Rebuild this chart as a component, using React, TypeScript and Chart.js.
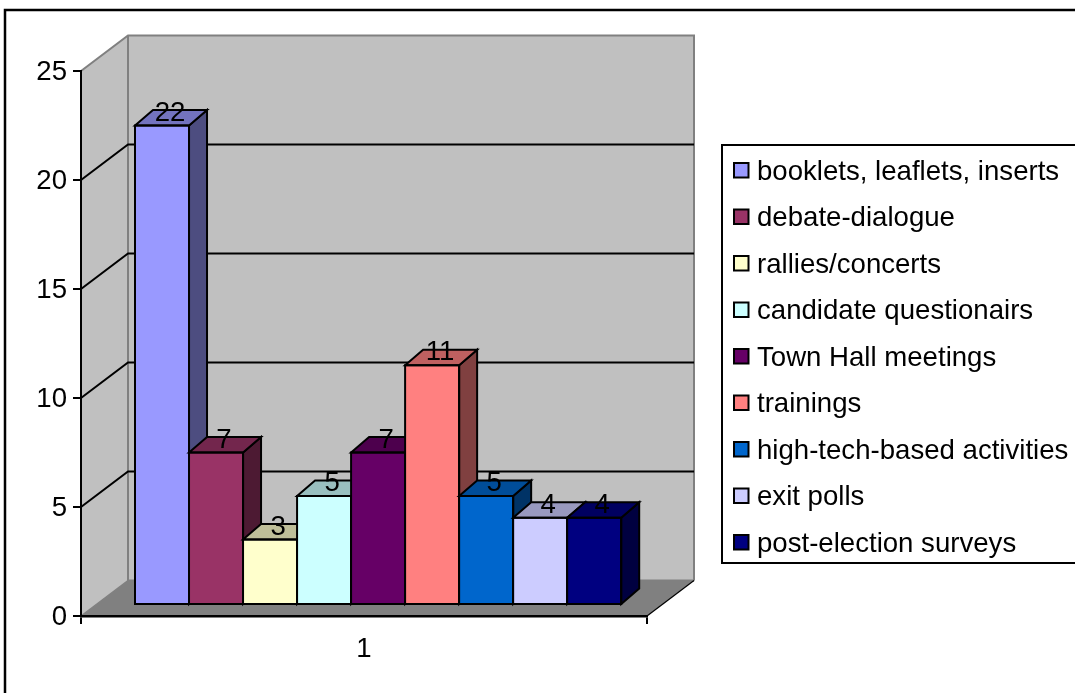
import React, { useEffect, useRef } from "react";
import { Chart, registerables } from "chart.js";

Chart.register(...registerables);

const categories = ["1"];
const seriesNames = [
  "booklets, leaflets, inserts",
  "debate-dialogue",
  "rallies/concerts",
  "candidate questionairs",
  "Town Hall meetings",
  "trainings",
  "high-tech-based activities",
  "exit polls",
  "post-election surveys",
];
const seriesValues = [22, 7, 3, 5, 7, 11, 5, 4, 4];
const seriesColors = [
  "#9999FF",
  "#993366",
  "#FFFFCC",
  "#CCFFFF",
  "#660066",
  "#FF8080",
  "#0066CC",
  "#CCCCFF",
  "#000080",
];

const FONT = '"Liberation Sans", Arial, sans-serif';
const FONT_SIZE = 27.6;

// Oblique projection of the chart box and of each column.
const WALL_DX = 47;
const WALL_DY = -35.5;
const BAR_SHIFT_X = 14.1;
const BAR_SHIFT_Y = -11;
const BAR_DX = 18;
const BAR_DY = -15.5;

const shade = (hex: string, k: number) => {
  const n = parseInt(hex.slice(1), 16);
  const c = [(n >> 16) & 255, (n >> 8) & 255, n & 255].map((v) => Math.round(v * k));
  return `rgb(${c[0]},${c[1]},${c[2]})`;
};

const poly = (ctx: CanvasRenderingContext2D, pts: number[][], fill?: string, stroke?: string, lw = 2) => {
  ctx.beginPath();
  pts.forEach(([x, y], i) => (i ? ctx.lineTo(x, y) : ctx.moveTo(x, y)));
  ctx.closePath();
  if (fill) {
    ctx.fillStyle = fill;
    ctx.fill();
  }
  if (stroke) {
    ctx.strokeStyle = stroke;
    ctx.lineWidth = lw;
    ctx.lineJoin = "miter";
    ctx.stroke();
  }
};

const segment = (ctx: CanvasRenderingContext2D, pts: number[][], color: string, lw: number) => {
  ctx.beginPath();
  pts.forEach(([x, y], i) => (i ? ctx.lineTo(x, y) : ctx.moveTo(x, y)));
  ctx.strokeStyle = color;
  ctx.lineWidth = lw;
  ctx.stroke();
};

// Frame, side wall, back wall, floor and the gridlines running across both walls.
const chartBox = {
  id: "chartBox",
  beforeDraw(chart: any) {
    const { ctx, chartArea: a, scales, width, height } = chart;
    ctx.save();
    ctx.fillStyle = "#fff";
    ctx.fillRect(0, 0, width, height);

    segment(ctx, [[5, height + 2], [5, 10], [width + 2, 10]], "#000", 2.5);

    const { left: l, right: r, top: t, bottom: b } = a;
    const dx = WALL_DX;
    const dy = WALL_DY;
    poly(ctx, [[l, t], [l + dx, t + dy], [l + dx, b + dy], [l, b]], "#C0C0C0");
    poly(ctx, [[l + dx, t + dy], [r + dx, t + dy], [r + dx, b + dy], [l + dx, b + dy]], "#C0C0C0");
    poly(ctx, [[l, b], [l + dx, b + dy], [r + dx, b + dy], [r, b]], "#808080");

    segment(ctx, [[l, t], [l + dx, t + dy], [r + dx, t + dy], [r + dx, b + dy]], "#808080", 2);
    segment(ctx, [[l + dx, t + dy], [l + dx, b + dy], [r + dx, b + dy]], "#808080", 2);
    segment(ctx, [[l, b], [l + dx, b + dy]], "#808080", 1.5);
    segment(ctx, [[r, b], [r + dx, b + dy]], "#000", 1.2);

    scales.y.ticks.forEach((tick: any) => {
      if (tick.value === 0 || tick.value === 25) return;
      const y = scales.y.getPixelForValue(tick.value);
      segment(ctx, [[l, y], [l + dx, y + dy], [r + dx, y + dy]], "#000", 2);
    });

    // Value-axis labels sit a little below their tick marks.
    scales.y.getLabelItems().forEach((item: any) => {
      item.options.translation[1] += 1.5;
    });
    ctx.restore();
  },
};

// Columns are painted left to right, each with its side and top faces, so a
// column's front hides the side face of the one before it.
const columns = {
  id: "columns",
  beforeDatasetsDraw(chart: any) {
    const { ctx } = chart;
    const metas = chart.getSortedVisibleDatasetMetas().slice().sort((p: any, q: any) => p.index - q.index);
    ctx.save();
    ctx.translate(BAR_SHIFT_X, BAR_SHIFT_Y);
    metas.forEach((meta: any) => {
      const color = seriesColors[meta.index];
      meta.controller.draw();
      meta.data.forEach((bar: any) => {
        const { x, y, base, width } = bar.getProps(["x", "y", "base", "width"], true);
        const x0 = x - width / 2;
        const x1 = x + width / 2;
        poly(ctx, [[x1, y], [x1 + BAR_DX, y + BAR_DY], [x1 + BAR_DX, base + BAR_DY], [x1, base]], shade(color, 0.5), "#000");
        poly(ctx, [[x0, y], [x0 + BAR_DX, y + BAR_DY], [x1 + BAR_DX, y + BAR_DY], [x1, y]], shade(color, 0.75), "#000");
        poly(ctx, [[x0, y], [x1, y], [x1, base], [x0, base]], undefined, "#000");
      });
    });
    // Value labels sit over the top faces.
    ctx.fillStyle = "#000";
    ctx.font = `${FONT_SIZE}px ${FONT}`;
    ctx.textAlign = "center";
    ctx.textBaseline = "middle";
    metas.forEach((meta: any) => {
      meta.data.forEach((bar: any, i: number) => {
        const { x, y } = bar.getProps(["x", "y"], true);
        ctx.fillText(String(chart.data.datasets[meta.index].data[i]), x + 8, y - 12.5);
      });
    });
    ctx.restore();
    return false;
  },
};

// Legend box, open towards the right edge of the canvas.
const legendBox = {
  id: "legendBox",
  afterDraw(chart: any) {
    const { ctx, width } = chart;
    ctx.save();
    segment(ctx, [[width + 2, 145], [722, 145], [722, 563], [width + 2, 563]], "#000", 2);
    ctx.font = `${FONT_SIZE}px ${FONT}`;
    ctx.textAlign = "left";
    ctx.textBaseline = "middle";
    chart.data.datasets.forEach((ds: any, i: number) => {
      const y = 171 + i * 46.5;
      ctx.fillStyle = ds.backgroundColor;
      ctx.strokeStyle = "#000";
      ctx.lineWidth = 2;
      ctx.fillRect(734, y - 8, 14.5, 14.5);
      ctx.strokeRect(734, y - 8, 14.5, 14.5);
      ctx.fillStyle = "#000";
      ctx.fillText(ds.label, 757, y + 1);
    });
    ctx.restore();
  },
};

export default function App() {
  const canvasRef = useRef<HTMLCanvasElement>(null);

  useEffect(() => {
    const chart = new Chart(canvasRef.current!, {
      type: "bar",
      data: {
        labels: categories,
        datasets: seriesNames.map((label, i) => ({
          label,
          data: [seriesValues[i]],
          backgroundColor: seriesColors[i],
          borderWidth: 0,
        })),
      },
      options: {
        animation: false,
        responsive: false,
        layout: { padding: { left: 21, top: 71, right: 428, bottom: 27 } },
        datasets: { bar: { barPercentage: 1, categoryPercentage: 0.859 } },
        plugins: { legend: { display: false }, tooltip: { enabled: false } },
        scales: {
          x: {
            afterFit: (s: any) => {
              s.height = 50;
              s.paddingLeft = 0;
              s.paddingRight = 0;
            },
            grid: { offset: true, drawOnChartArea: false, color: "#000", lineWidth: 2, tickLength: 8 },
            border: { color: "#000", width: 2.5 },
            ticks: { color: "#000", font: { family: FONT, size: FONT_SIZE }, padding: 9, maxRotation: 0 },
          },
          y: {
            min: 0,
            max: 25,
            afterFit: (s: any) => {
              s.width = 60;
              s.paddingTop = 0;
              s.paddingBottom = 0;
            },
            grid: { drawOnChartArea: false, color: "#000", lineWidth: 2, tickLength: 8 },
            border: { color: "#000", width: 2 },
            ticks: { stepSize: 5, color: "#000", font: { family: FONT, size: FONT_SIZE }, padding: 6 },
          },
        },
      },
      plugins: [chartBox, columns, legendBox],
    } as any);
    return () => chart.destroy();
  }, []);

  return (
    <canvas
      ref={canvasRef}
      width={1075}
      height={693}
      style={{ position: "fixed", left: 0, top: 0, display: "block" }}
    />
  );
}
